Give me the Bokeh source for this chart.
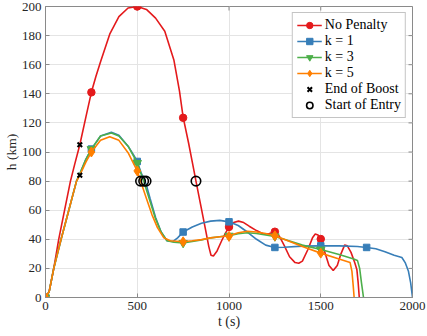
import numpy as np
from bokeh.plotting import figure
from bokeh.models import Range1d, FixedTicker, Legend, LegendItem
from bokeh.embed import file_html
from bokeh.resources import INLINE

# ---------------- data ----------------
x_ticks = [0, 500, 1000, 1500, 2000]
y_ticks = [0, 20, 40, 60, 80, 100, 120, 140, 160, 180, 200]
x_title = "t (s)"
y_title = "h (km)"

# No Penalty
red_t = [0, 20, 45, 72, 104, 136, 160, 187, 220, 250, 275, 300, 350, 400, 450, 500, 550, 600,
         650, 700, 730, 750, 780, 800, 820, 845, 870, 890, 902, 915, 935, 960, 980, 1000, 1025,
         1052, 1080, 1110, 1150, 1190, 1220, 1250, 1275, 1300, 1330, 1360, 1380, 1400, 1430,
         1455, 1470, 1485, 1500, 1520, 1545, 1568, 1590, 1610, 1630, 1645, 1665, 1685, 1697,
         1704, 1710]
red_h = [0, 4, 20, 40, 60, 80, 92, 105, 124, 141, 152, 162, 181, 193, 199, 200, 198, 192,
         183, 163, 142, 124, 106, 93, 80, 64, 48, 35, 29, 28.5, 32, 39, 44, 48.5, 51.5,
         52.5, 51.5, 49, 46, 43.5, 44, 45.2, 42, 36, 28, 24, 23.5, 25, 33,
         41, 43.6, 43, 40.2, 32, 22, 18.5, 22, 30, 36, 35.5, 31, 24, 19,
         10, 0]
red_mk_t = [0, 250, 500, 750, 1000, 1250, 1500]
red_mk_h = [0, 141, 200, 123.5, 48.5, 45.2, 40.2]

# k = 1
blue_t = [0, 20, 45, 85, 127, 169, 187, 220, 250, 300, 359, 400, 450, 480, 500, 520, 548, 570,
          600, 630, 662, 695, 720, 750, 800, 850, 900, 950, 1000, 1050, 1100, 1150, 1200, 1250,
          1300, 1400, 1500, 1600, 1700, 1750, 1800, 1850, 1900, 1942, 1960, 1978, 1990, 2000]
blue_h = [0, 4, 20, 40, 60, 80, 85, 95, 102, 111, 113.5, 111.5, 104, 98, 93.5, 86, 78, 68,
          55, 45, 39, 38.5, 41, 45, 48.5, 51, 52.5, 53, 52, 49.5, 45, 40, 36, 34.4,
          34.5, 35.3, 35.5, 35.5, 35, 34.4, 33.5, 31.5, 29, 27.5, 24, 18, 10, 0]
blue_mk_t = [0, 250, 500, 750, 1000, 1250, 1500, 1750]
blue_mk_h = [0, 102, 93.5, 45, 52, 34.4, 35.5, 34.4]

# k = 3
green_t = [0, 20, 45, 85, 127, 169, 187, 220, 250, 300, 359, 400, 450, 500, 535, 570, 600, 630,
           662, 700, 750, 800, 850, 900, 950, 1000, 1050, 1100, 1150, 1200, 1250, 1300, 1400,
           1500, 1600, 1680, 1700, 1712, 1722, 1733]
green_h = [0, 4, 20, 40, 60, 80, 85, 95, 102, 111, 113, 111, 104, 92.5, 80, 66, 54, 45,
           39, 38, 37.5, 38.5, 39.5, 41, 41.8, 42.5, 43.8, 44.5, 44, 43, 42, 40, 36,
           33, 29.5, 26.5, 25.5, 20, 10, 0]
green_mk_t = [0, 250, 500, 750, 1000, 1250, 1500]
green_mk_h = [0, 102, 92.5, 37.5, 42.5, 42, 33]

# k = 5
orange_t = [0, 20, 45, 85, 127, 169, 187, 220, 250, 300, 350, 400, 450, 500, 518, 550, 580, 610,
            645, 680, 750, 800, 850, 900, 950, 1000, 1050, 1100, 1150, 1200, 1250, 1300, 1400,
            1500, 1600, 1660, 1670, 1677, 1682]
orange_h = [0, 4, 20, 40, 60, 80, 84, 93, 100, 108, 110.5, 108, 99.5, 87, 80, 68, 57, 48,
            41, 39, 38.3, 39, 39.8, 41, 41.8, 42.4, 44.5, 45.5, 45, 44, 42.4, 40, 35,
            30.5, 26.5, 24, 18, 8, 0]
orange_mk_t = [0, 250, 500, 750, 1000, 1250, 1500]
orange_mk_h = [0, 100, 87, 38.3, 42, 42.4, 30.5]

boost_t = [187, 187]
boost_h = [105, 84]
entry_t = [820, 518, 535, 548]
entry_h = [80, 80, 80, 80]

RED, BLUE, GREEN, ORANGE = "#e41a1c", "#377eb8", "#4daf4a", "#ff7f00"
AX = "#8a8a8a"
TXT = "#262626"
FONT = "Liberation Serif"

X0, X1, Y0, Y1 = 0, 2000, 0, 200
W, H = 427, 336
BL, BR, BT, BB = 45, 15, 6, 39
FW, FH = W - BL - BR, H - BT - BB
TICK = 4  # px

# ---------------- figure ----------------
p = figure(width=W, height=H, output_backend="svg", toolbar_location=None,
           x_range=Range1d(X0, X1), y_range=Range1d(Y0, Y1),
           min_border_left=BL, min_border_right=BR, min_border_top=BT, min_border_bottom=BB)
p.outline_line_color = AX
p.outline_line_width = 1
p.background_fill_color = "white"
p.border_fill_color = "white"

p.xaxis.ticker = FixedTicker(ticks=x_ticks)
p.yaxis.ticker = FixedTicker(ticks=y_ticks)
for ax in list(p.xaxis) + list(p.yaxis):
    ax.axis_line_color = AX
    ax.axis_line_width = 1
    ax.major_tick_line_color = AX
    ax.major_tick_in = TICK
    ax.major_tick_out = 0
    ax.minor_tick_line_color = None
    ax.major_label_text_font = FONT
    ax.major_label_text_color = TXT
    ax.major_label_text_font_size = "13px"
    ax.major_label_standoff = 4
    ax.axis_label_text_font = FONT
    ax.axis_label_text_font_size = "14px"
    ax.axis_label_text_font_style = "normal"
    ax.axis_label_text_color = TXT

p.xaxis.axis_label = x_title
p.xaxis.axis_label_standoff = 1
p.yaxis.axis_label = y_title
p.yaxis.axis_label_standoff = 0
p.yaxis.axis_label_text_font_size = "13.5px"

p.xgrid.ticker = FixedTicker(ticks=x_ticks)
p.ygrid.ticker = FixedTicker(ticks=y_ticks)
p.xgrid.grid_line_color = "#e4e4e4"
p.ygrid.grid_line_color = "#e4e4e4"

# mirrored inward ticks on the top and right edges of the box
dy = TICK * (Y1 - Y0) / FH
dx = TICK * (X1 - X0) / FW
p.segment(x0=x_ticks, y0=[Y1] * len(x_ticks), x1=x_ticks, y1=[Y1 - dy] * len(x_ticks),
          line_color=AX, line_width=1)
p.segment(x0=[X1] * len(y_ticks), y0=y_ticks, x1=[X1 - dx] * len(y_ticks), y1=y_ticks,
          line_color=AX, line_width=1)

LW = 1.6
rl = p.line(red_t, red_h, color=RED, line_width=LW)
rm = p.scatter(red_mk_t, red_mk_h, marker="circle", size=7.5, fill_color=RED, line_color=RED)
bl = p.line(blue_t, blue_h, color=BLUE, line_width=LW)
bm = p.scatter(blue_mk_t, blue_mk_h, marker="square", size=6.5, fill_color=BLUE, line_color=BLUE)
gl = p.line(green_t, green_h, color=GREEN, line_width=LW)
gm = p.scatter(green_mk_t, green_mk_h, marker="inverted_triangle", size=8.5, fill_color=GREEN, line_color=GREEN)
ol = p.line(orange_t, orange_h, color=ORANGE, line_width=LW)
om = p.scatter(orange_mk_t, orange_mk_h, marker="diamond", size=10, fill_color=ORANGE, line_color=ORANGE)
xb = p.scatter(boost_t, boost_h, marker="x", size=6.5, line_color="black", line_width=2)
ce = p.scatter(entry_t, entry_h, marker="circle", size=9.5, fill_color=None, line_color="black", line_width=1.6)

legend = Legend(items=[
    LegendItem(label="No Penalty", renderers=[rl, rm]),
    LegendItem(label="k = 1", renderers=[bl, bm]),
    LegendItem(label="k = 3", renderers=[gl, gm]),
    LegendItem(label="k = 5", renderers=[ol, om]),
    LegendItem(label="End of Boost", renderers=[xb]),
    LegendItem(label="Start of Entry", renderers=[ce]),
], location="top_right")
legend.margin = 6
legend.padding = 4
legend.spacing = 0
legend.glyph_width = 25
legend.glyph_height = 16
legend.label_height = 16
legend.label_standoff = 3
legend.label_text_font = FONT
legend.label_text_font_size = "14px"
legend.label_text_color = "black"
legend.border_line_color = AX
legend.border_line_width = 1
legend.background_fill_color = "white"
legend.background_fill_alpha = 1
p.add_layout(legend)

open("out.html", "w").write(file_html(p, INLINE))
